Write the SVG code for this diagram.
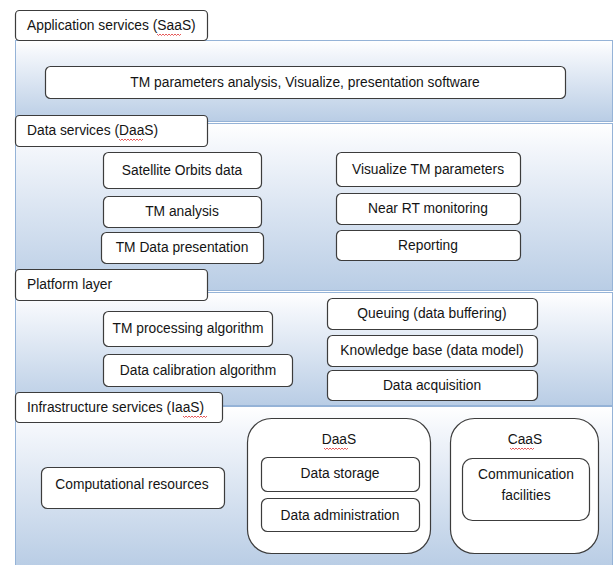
<svg xmlns="http://www.w3.org/2000/svg" width="614" height="565" viewBox="0 0 614 565">
  <defs>
    <linearGradient id="layerFill" x1="0" y1="0" x2="0" y2="1">
      <stop offset="0" stop-color="#ffffff"/>
      <stop offset="0.15" stop-color="#f3f6fb"/>
      <stop offset="1" stop-color="#b9cde5"/>
    </linearGradient>
    <path id="squiggle" d="M0,0 l1.5,1.5 l1.5,-1.5 l1.5,1.5 l1.5,-1.5 l1.5,1.5 l1.5,-1.5 l1.5,1.5 l1.5,-1.5 l1.5,1.5 l1.5,-1.5 l1.5,1.5 l1.5,-1.5 l1.5,1.5 l1.5,-1.5 l1.5,1.5 l1.5,-1.5"/>
  </defs>
  <style>
    .layer { fill: url(#layerFill); stroke: #95b3d7; stroke-width: 1; }
    .box { fill: #ffffff; stroke: #3c3c3c; stroke-width: 1.2; }
    .label { fill: #ffffff; stroke: #3c3c3c; stroke-width: 1.2; }
    .group { fill: #ffffff; stroke: #3c3c3c; stroke-width: 1.2; }
    text { font-family: "Liberation Sans", Arial, sans-serif; font-size: 13.8px; fill: #141414; }
    .c { text-anchor: middle; }
    .spell { fill: none; stroke: #e03030; stroke-width: 0.8; }
  </style>
  <rect width="614" height="565" fill="#ffffff"/>

  <!-- Layer backgrounds -->
  <g id="layers">
    <rect class="layer" x="15.5" y="40.5" width="597" height="81"/>
    <rect class="layer" x="15.5" y="123.5" width="597" height="167"/>
    <rect class="layer" x="15.5" y="292.5" width="597" height="113"/>
    <rect class="layer" x="15.5" y="406.5" width="597" height="160"/>
  </g>

  <!-- Application services (SaaS) -->
  <g id="saas-label">
    <rect class="label" x="15.5" y="10.5" width="192" height="30" rx="4"/>
    <text x="27" y="30">Application services (SaaS)</text>
    <use href="#squiggle" class="spell" x="157" y="34"/>
  </g>
  <g id="saas-software">
    <rect class="box" x="45.5" y="66.5" width="520" height="32" rx="5"/>
    <text class="c" x="305" y="87">TM parameters analysis, Visualize, presentation software</text>
  </g>

  <!-- Data services (DaaS) -->
  <g id="daas-label">
    <rect class="label" x="15.5" y="115.5" width="192" height="31" rx="4"/>
    <text x="27" y="135">Data services (DaaS)</text>
    <use href="#squiggle" class="spell" x="119" y="139"/>
  </g>
  <g id="satellite-orbits">
    <rect class="box" x="103.5" y="152.5" width="158" height="36" rx="5"/>
    <text class="c" x="182" y="175">Satellite Orbits data</text>
  </g>
  <g id="tm-analysis">
    <rect class="box" x="103.5" y="196.5" width="158" height="31" rx="5"/>
    <text class="c" x="182" y="216">TM analysis</text>
  </g>
  <g id="tm-data-presentation">
    <rect class="box" x="101.5" y="232.5" width="162" height="31" rx="5"/>
    <text class="c" x="182" y="252">TM Data presentation</text>
  </g>
  <g id="visualize-tm">
    <rect class="box" x="336.5" y="152.5" width="184" height="34" rx="5"/>
    <text class="c" x="428" y="174">Visualize TM parameters</text>
  </g>
  <g id="near-rt">
    <rect class="box" x="336.5" y="193.5" width="184" height="31" rx="5"/>
    <text class="c" x="428" y="213">Near RT monitoring</text>
  </g>
  <g id="reporting">
    <rect class="box" x="336.5" y="230.5" width="184" height="30" rx="5"/>
    <text class="c" x="428" y="250">Reporting</text>
  </g>

  <!-- Platform layer -->
  <g id="platform-label">
    <rect class="label" x="15.5" y="269.5" width="192" height="31" rx="4"/>
    <text x="27" y="289">Platform layer</text>
  </g>
  <g id="tm-processing">
    <rect class="box" x="103.5" y="311.5" width="169" height="35" rx="5"/>
    <text class="c" x="188" y="333">TM processing algorithm</text>
  </g>
  <g id="data-calibration">
    <rect class="box" x="103.5" y="354.5" width="189" height="32" rx="5"/>
    <text class="c" x="198" y="375">Data calibration algorithm</text>
  </g>
  <g id="queuing">
    <rect class="box" x="327.5" y="298.5" width="210" height="31" rx="5"/>
    <text class="c" x="432" y="318">Queuing (data buffering)</text>
  </g>
  <g id="knowledge-base">
    <rect class="box" x="327.5" y="335.5" width="210" height="31" rx="5"/>
    <text class="c" x="432" y="355">Knowledge base (data model)</text>
  </g>
  <g id="data-acquisition">
    <rect class="box" x="327.5" y="370.5" width="210" height="30" rx="5"/>
    <text class="c" x="432" y="390">Data acquisition</text>
  </g>

  <!-- Infrastructure services (IaaS) -->
  <g id="iaas-label">
    <rect class="label" x="15.5" y="392.5" width="207" height="30" rx="4"/>
    <text x="27" y="412">Infrastructure services (IaaS)</text>
    <use href="#squiggle" class="spell" x="183" y="416"/>
  </g>
  <g id="computational-resources">
    <rect class="box" x="41.5" y="467.5" width="183" height="41" rx="6"/>
    <text class="c" x="132" y="489">Computational resources</text>
  </g>
  <g id="daas-group">
    <rect class="group" x="247.5" y="418.5" width="183" height="135" rx="24"/>
    <text class="c" x="339" y="444">DaaS</text>
    <use href="#squiggle" class="spell" x="324" y="448"/>
  </g>
  <g id="data-storage">
    <rect class="box" x="261.5" y="457.5" width="158" height="34" rx="6"/>
    <text class="c" x="340" y="478">Data storage</text>
  </g>
  <g id="data-administration">
    <rect class="box" x="261.5" y="498.5" width="158" height="33" rx="6"/>
    <text class="c" x="340" y="520">Data administration</text>
  </g>
  <g id="caas-group">
    <rect class="group" x="450.5" y="418.5" width="148" height="135" rx="24"/>
    <text class="c" x="525" y="444">CaaS</text>
    <use href="#squiggle" class="spell" x="510" y="448"/>
  </g>
  <g id="communication-facilities">
    <rect class="box" x="462.5" y="458.5" width="127" height="62" rx="10"/>
    <text class="c" x="526" y="479">Communication</text>
    <text class="c" x="526" y="500">facilities</text>
  </g>

  <!-- No connectors in this diagram -->
  <g id="connectors"/>
</svg>
